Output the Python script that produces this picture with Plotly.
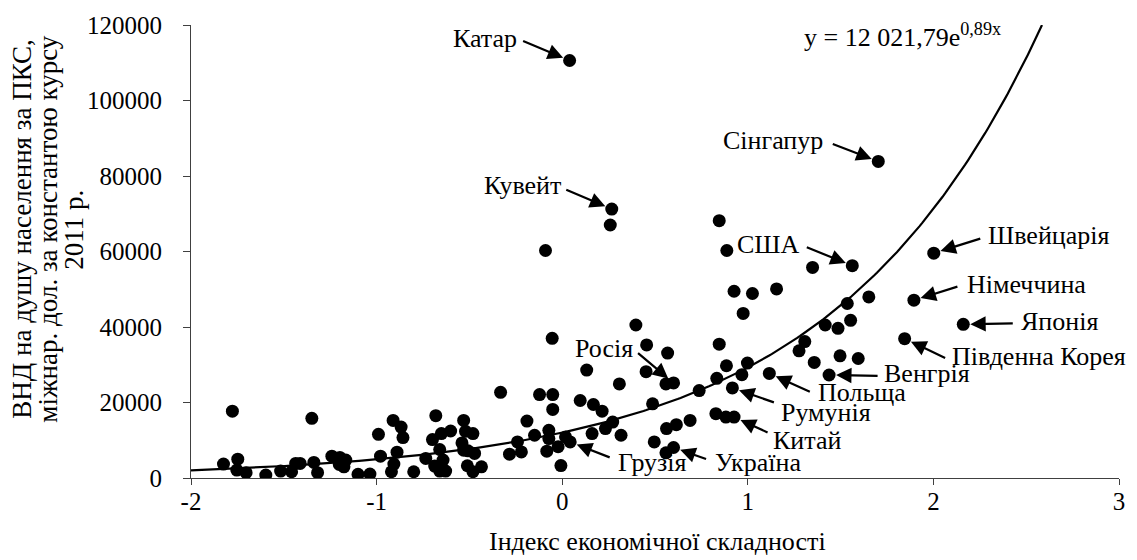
import numpy as np
import plotly.graph_objects as go

# ---- data ----
eci = [-1.825, -1.777, -1.748, -1.753, -1.703, -1.597, -1.517, -1.458, -1.436, -1.412,
       -1.349, -1.338, -1.318, -1.241, -1.198, -1.201, -1.166, -1.176, -1.100, -1.036,
       -0.990, -0.979, -0.920, -0.911, -0.907, -0.890, -0.868, -0.858, -0.800, -0.681,
       -0.699, -0.735, -0.660, -0.651, -0.687, -0.660, -0.628, -0.642, -0.601, -0.540,
       -0.531, -0.521, -0.531, -0.508, -0.481, -0.472, -0.511, -0.481, -0.435, -0.332,
       -0.284, -0.241, -0.220, -0.190, -0.149, -0.122, -0.051, -0.051, -0.072, -0.072,
       -0.083, -0.022, -0.007, -0.054, -0.090, 0.018, 0.097, 0.132, 0.168, 0.215,
       0.161, 0.233, 0.272, 0.317, 0.308, 0.397, 0.455, 0.452, 0.487, 0.496,
       0.568, 0.559, 0.562, 0.615, 0.689, 0.559, 0.738, 0.833, 0.846, 0.885,
       0.828, 0.882, 0.846, 0.887, 0.926, 0.975, 0.998, 0.968, 1.025, 1.155,
       1.349, 1.652, 1.536, 1.554, 1.417, 1.486, 1.307, 1.276, 1.358, 1.497,
       1.595, 0.259]
gni = [3680, 17700, 5000, 2100, 1400, 790, 1840, 1660, 3860, 3860,
       15800, 4130, 1400, 5790, 5440, 3600, 4740, 2970, 970, 1050,
       11580, 5790, 1660, 15260, 3680, 6840, 13500, 10700, 1660, 16500,
       10180, 5180, 7550, 11760, 3160, 1840, 1840, 4740, 12450, 9290,
       15260, 12370, 7370, 7190, 11760, 6500, 3240, 1660, 2970, 22700,
       6320, 9550, 6920, 15080, 11320, 22100, 22100, 18160, 12630, 10440,
       7100, 8300, 3300, 37000, 60260, 10870, 20530, 28600, 19470, 17700,
       11760, 13080, 14820, 11320, 24920, 40530, 35260, 28160, 19660, 9550,
       33080, 24920, 13080, 14130, 15260, 6660, 23160, 26400, 35450, 29740,
       17030, 16130, 68160, 60260, 49470, 43600, 30450, 27370, 48870, 50080,
       55790, 47970, 46230, 41760, 40530, 39650, 36130, 33680, 30610, 32370,
       31660, 67020]

countries = ["Катар", "Кувейт", "Сінгапур", "США", "Швейцарія", "Німеччина", "Японія",
             "Південна Корея", "Венгрія", "Польща", "Румунія", "Китай", "Росія",
             "Грузія", "Україна"]
country_eci = [0.040, 0.267, 1.703, 1.563, 2.002, 1.895, 2.161, 1.845, 1.438, 1.116,
               0.917, 0.926, 0.600, 0.043, 0.600]
country_gni = [110600, 71240, 83870, 56240, 59550, 47100, 40710, 36920, 27290, 27710,
               23870, 16130, 25180, 9550, 8080]

trend_a = 12021.79
trend_b = 0.89
equation_text = "y = 12 021,79e<sup>0,89x</sup>"

x_ticks = [-2, -1, 0, 1, 2, 3]
x_tick_labels = ["-2", "-1", "0", "1", "2", "3"]
y_ticks = [0, 20000, 40000, 60000, 80000, 100000, 120000]

x_title = "Індекс економічної складності"
y_title_lines = ["ВНД на душу населення за ПКС,",
                 "міжнар. дол. за константою курсу",
                 "2011 р."]

# label placement (pixels): arrow tail offset, text side, text offset
label_layout = {
    "Катар":          dict(tail=(-48, -20), side="right", txt=(-51, -22)),
    "Кувейт":         dict(tail=(-47, -20), side="right", txt=(-49, -24)),
    "Сінгапур":       dict(tail=(-47, -18), side="right", txt=(-53, -21)),
    "США":            dict(tail=(-47, -19), side="right", txt=(-50, -21)),
    "Швейцарія":      dict(tail=(48, -15), side="left", txt=(52, -18)),
    "Німеччина":      dict(tail=(45, -14), side="left", txt=(51, -16)),
    "Японія":         dict(tail=(51, -1), side="left", txt=(56, -3)),
    "Південна Корея": dict(tail=(42, 20), side="left", txt=(45, 18)),
    "Венгрія":        dict(tail=(50, 1), side="left", txt=(53, -1)),
    "Польща":         dict(tail=(42, 19), side="left", txt=(47, 19)),
    "Румунія":        dict(tail=(43, 15), side="left", txt=(47, 25)),
    "Китай":          dict(tail=(35, 16), side="left", txt=(37, 23)),
    "Росія":          dict(tail=(-37, -31), side="right", txt=(-39, -34)),
    "Грузія":         dict(tail=(41, 16), side="left", txt=(46, 21)),
    "Україна":        dict(tail=(34, 12), side="left", txt=(39, 15)),
}

FONT = "Liberation Serif"
FS = 25
FS_LABEL = 26
FS_TITLE = 27

fig = go.Figure()

marker = dict(color="black", size=13, line=dict(width=0))
fig.add_trace(go.Scatter(x=eci, y=gni, mode="markers", marker=marker,
                         showlegend=False, hoverinfo="x+y"))
fig.add_trace(go.Scatter(x=country_eci, y=country_gni, mode="markers", marker=marker,
                         text=countries, showlegend=False, hoverinfo="text+x+y"))

# exponential trend line from the stated equation
x_end = np.log(120000 / trend_a) / trend_b
tx = np.linspace(-2, x_end, 300)
ty = trend_a * np.exp(trend_b * tx)
fig.add_trace(go.Scatter(x=tx, y=ty, mode="lines", line=dict(color="black", width=2.2),
                         showlegend=False, hoverinfo="skip"))

annotations = []
for name, cx, cy in zip(countries, country_eci, country_gni):
    lay = label_layout[name]
    annotations.append(dict(
        x=cx, y=cy, xref="x", yref="y", text="", showarrow=True,
        ax=lay["tail"][0], ay=lay["tail"][1], axref="pixel", ayref="pixel",
        arrowhead=2, arrowsize=1.4, arrowwidth=2.2, arrowcolor="black", standoff=7))
    annotations.append(dict(
        x=cx, y=cy, xref="x", yref="y", text=name, showarrow=False,
        xanchor=lay["side"], yanchor="middle",
        xshift=lay["txt"][0], yshift=-lay["txt"][1],
        font=dict(family=FONT, size=FS_LABEL, color="black")))

annotations.append(dict(
    x=(803 - 191) / 929, y=(478 - 33) / 456, xref="paper", yref="paper",
    text=equation_text, showarrow=False, xanchor="left", yanchor="middle",
    font=dict(family=FONT, size=FS_LABEL, color="black")))

for i, (line, px) in enumerate(zip(y_title_lines, [22, 48, 74])):
    annotations.append(dict(
        x=0, y=(478 - 228) / 456, xref="paper", yref="paper", xshift=px - 191,
        text=line, textangle=-90, showarrow=False, xanchor="center", yanchor="middle",
        font=dict(family=FONT, size=FS_TITLE, color="black")))

annotations.append(dict(
    x=0.5, y=0, xref="paper", yref="paper", yshift=-(541 - 478), xshift=2,
    text=x_title, showarrow=False, xanchor="center", yanchor="middle",
    font=dict(family=FONT, size=FS_LABEL, color="black")))

fig.update_layout(
    width=1137, height=560,
    margin=dict(l=191, r=17, t=22, b=82),
    paper_bgcolor="white", plot_bgcolor="white",
    font=dict(family=FONT, size=FS, color="black"),
    annotations=annotations,
    showlegend=False,
)
fig.update_xaxes(range=[-2, 3], tickvals=x_ticks, ticktext=x_tick_labels,
                 showgrid=False, zeroline=False, showline=True, linecolor="#404040",
                 linewidth=1, ticks="outside", ticklen=6, tickcolor="#404040",
                 ticklabelstandoff=-5,
                 tickfont=dict(family=FONT, size=FS, color="black"))
fig.update_yaxes(range=[0, 120000], tickvals=y_ticks, tickformat="d",
                 showgrid=False, zeroline=False, showline=True, linecolor="#404040",
                 linewidth=1, ticks="outside", ticklen=7, tickcolor="#404040",
                 ticklabelstandoff=16,
                 tickfont=dict(family=FONT, size=FS, color="black"))

fig.write_html("out.html", config={"displayModeBar": False},
               post_script="document.body.style.margin='0';document.body.style.overflow='hidden';")
